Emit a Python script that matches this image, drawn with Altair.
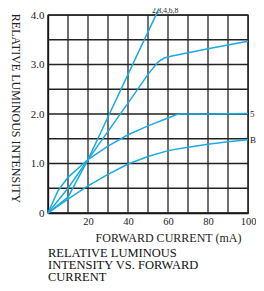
import altair as alt
import pandas as pd

# Curve data (forward current mA, relative luminous intensity)
a_x = [0, 10, 20, 30, 40, 50, 55.5]
a_y = [0, 0.5, 1.08, 1.94, 2.8, 3.66, 4.13]
b_x = [0, 10, 20, 30, 40, 50, 55, 58, 62, 80, 100]
b_y = [0, 0.32, 1.08, 1.65, 2.22, 2.8, 3.05, 3.13, 3.17, 3.32, 3.47]
c_x = [0, 5, 10, 20, 30, 40, 50, 60, 65, 80, 100]
c_y = [0, 0.45, 0.72, 1.08, 1.35, 1.58, 1.76, 1.92, 2.0, 2.0, 2.01]
d_x = [0, 10, 20, 30, 40, 50, 60, 70, 80, 90, 100]
d_y = [0, 0.28, 0.55, 0.78, 0.99, 1.14, 1.26, 1.33, 1.39, 1.44, 1.48]

label_text = ["2,3,4,6,8", "5", "B"]
label_x = [58.5, 101, 101]
label_y = [4.0, 2.0, 1.47]

x_grid = [0, 10, 20, 30, 40, 50, 60, 70, 80, 90, 100]
y_grid = [0, 0.5, 1.0, 1.5, 2.0, 2.5, 3.0, 3.5, 4.0]
x_ticks = [20, 40, 60, 80, 100]
y_ticks = [0, 1, 2, 3, 4]

rows = []
for name, xs, ys in [("A", a_x, a_y), ("B", b_x, b_y), ("C", c_x, c_y), ("D", d_x, d_y)]:
    for i, (xv, yv) in enumerate(zip(xs, ys)):
        rows.append({"curve": name, "i": i, "x": xv, "y": yv})
df = pd.DataFrame(rows)
labels = pd.DataFrame({"t": label_text, "x": label_x, "y": label_y})

FONT = "Liberation Serif"
GRID = "#222222"
xscale = alt.Scale(domain=[0, 100], nice=False, zero=False)
yscale = alt.Scale(domain=[0, 4], nice=False, zero=False)

xaxis = alt.Axis(
    values=x_ticks, title="FORWARD CURRENT (mA)",
    labelFlush=False, labelOverlap=False, grid=False,
    ticks=False, domainColor="#000000", domainWidth=1.3,
    labelFont=FONT, labelFontSize=10.5, labelColor="#222222", labelPadding=3,
    titleFont=FONT, titleFontSize=12, titleFontWeight="normal", titleColor="#222222",
    titleX=120, titleY=28, titleAnchor="middle", titleBaseline="alphabetic",
)
yaxis = alt.Axis(
    values=y_ticks, title="RELATIVE LUMINOUS INTENSITY",
    labelExpr="datum.value == 0 ? '0' : format(datum.value, '.1f')",
    labelFlush=False, labelOverlap=False, grid=False,
    ticks=False, domainColor="#000000", domainWidth=1.3,
    labelFont=FONT, labelFontSize=11, labelColor="#222222", labelPadding=4,
    titleFont=FONT, titleFontSize=12, titleFontWeight="normal", titleColor="#222222",
    titleAngle=90, titleX=-33, titleY=93, titleAnchor="middle", titleBaseline="middle",
)

vgrid = alt.Chart(pd.DataFrame({"x": x_grid})).mark_rule(color=GRID, strokeWidth=1.3).encode(
    x=alt.X("x:Q", scale=xscale, axis=xaxis, title="FORWARD CURRENT (mA)")
)
hgrid = alt.Chart(pd.DataFrame({"y": y_grid})).mark_rule(color=GRID, strokeWidth=1.3).encode(
    y=alt.Y("y:Q", scale=yscale, axis=yaxis, title="RELATIVE LUMINOUS INTENSITY")
)

lines = alt.Chart(df).mark_line(color="#1aabe3", strokeWidth=1.5, clip=False).encode(
    x=alt.X("x:Q", scale=xscale, axis=xaxis, title="FORWARD CURRENT (mA)"),
    y=alt.Y("y:Q", scale=yscale, axis=yaxis, title="RELATIVE LUMINOUS INTENSITY"),
    detail="curve:N",
    order="i:Q",
)

top_label = alt.Chart(labels.iloc[[0]]).mark_text(
    font=FONT, fontSize=7.5, color="#222222", align="center", baseline="bottom", dy=0, clip=False
).encode(
    x=alt.X("x:Q", scale=xscale, axis=xaxis, title="FORWARD CURRENT (mA)"),
    y=alt.Y("y:Q", scale=yscale, axis=yaxis, title="RELATIVE LUMINOUS INTENSITY"),
    text="t:N",
)
side_labels = alt.Chart(labels.iloc[1:]).mark_text(
    font=FONT, fontSize=9, color="#222222", align="left", baseline="middle", clip=False
).encode(
    x=alt.X("x:Q", scale=xscale, axis=xaxis, title="FORWARD CURRENT (mA)"),
    y=alt.Y("y:Q", scale=yscale, axis=yaxis, title="RELATIVE LUMINOUS INTENSITY"),
    text="t:N",
)

chart = alt.layer(vgrid, hgrid, lines, top_label, side_labels).properties(
    width=200,
    height=198,
    title=alt.TitleParams(
        text=["RELATIVE LUMINOUS", "INTENSITY VS. FORWARD", "CURRENT"],
        orient="bottom", anchor="start", frame="group",
        font=FONT, fontSize=12.5, fontWeight="normal", color="#111111",
        lineHeight=12, offset=4,
    ),
    autosize=alt.AutoSizeParams(type="none"),
    padding={"left": 40, "top": 7, "right": 8, "bottom": 70},
).configure_view(stroke="#222222", strokeWidth=1.3)

chart.save("out.html", embed_options={"renderer": "svg", "actions": False})
